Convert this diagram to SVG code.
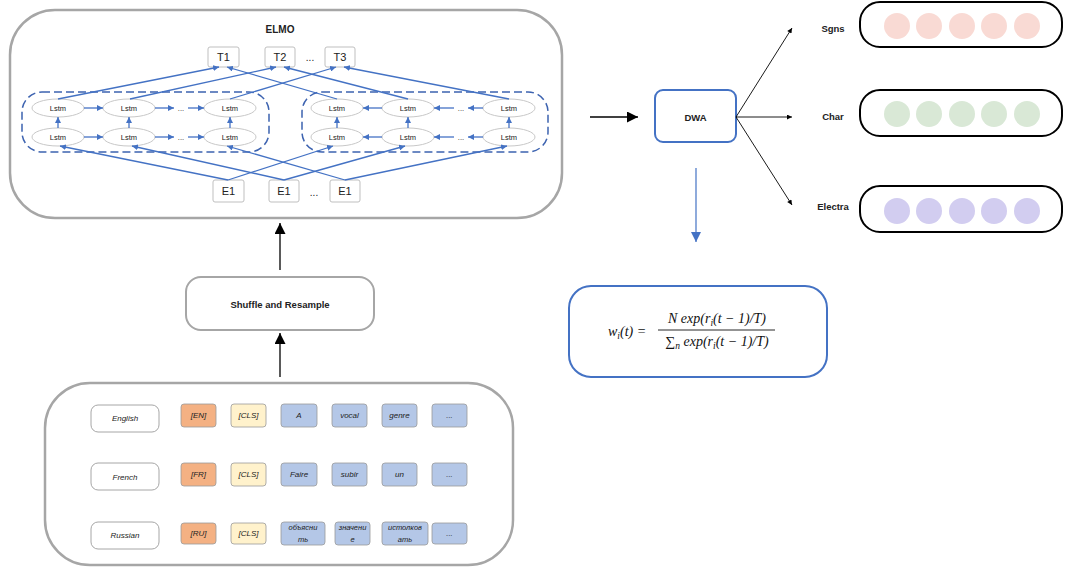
<svg xmlns="http://www.w3.org/2000/svg" width="1068" height="567" viewBox="0 0 1068 567">
<defs>
<style>
.big{fill:#fff;stroke:#a6a6a6;stroke-width:2.5}
.tb{fill:#fff;stroke:#bfbfbf;stroke-width:1}
.ls{fill:#fff;stroke:#c8c8c8;stroke-width:1}
.dash{fill:none;stroke:#3d63b0;stroke-width:1.5;stroke-dasharray:8 4}
.bl{fill:none;stroke:#4472c4;stroke-width:1.3;marker-end:url(#ab)}
.blk{fill:none;stroke:#000;stroke-width:1.3;marker-end:url(#ak)}
.thin{fill:none;stroke:#000;stroke-width:0.9;marker-end:url(#at)}
.t{font-family:"Liberation Sans",Arial,sans-serif;fill:#222;text-anchor:middle;dominant-baseline:central}
.b{font-weight:bold}
.it{font-style:italic}
.lang{fill:#fff;stroke:#a6a6a6;stroke-width:1}
.tok{stroke:#9a9a9a;stroke-width:0.8}
.bar{fill:#fff;stroke:#000;stroke-width:2}
.f{font-family:"Liberation Serif","Times New Roman",serif;font-style:italic;font-size:14px;fill:#111}
</style>
<marker id="ab" viewBox="0 0 10 10" refX="10" refY="5" markerWidth="6" markerHeight="6" markerUnits="userSpaceOnUse" orient="auto"><path d="M0,0L10,5L0,10z" fill="#4472c4"/></marker>
<marker id="ak" viewBox="0 0 10 10" refX="10" refY="5" markerWidth="11" markerHeight="11" markerUnits="userSpaceOnUse" orient="auto"><path d="M0,0L10,5L0,10z" fill="#000"/></marker>
<marker id="at" viewBox="0 0 10 10" refX="10" refY="5" markerWidth="6" markerHeight="5" markerUnits="userSpaceOnUse" orient="auto"><path d="M0,0L10,5L0,10z" fill="#000"/></marker>
<marker id="abig" viewBox="0 0 10 10" refX="10" refY="5" markerWidth="11" markerHeight="10" markerUnits="userSpaceOnUse" orient="auto"><path d="M0,0L10,5L0,10z" fill="#4472c4"/></marker>
</defs>

<g id="elmo">
<rect class="big" x="10" y="10" width="552" height="208" rx="45"/>
<text class="t b" x="280" y="29" font-size="10">ELMO</text>
<rect class="dash" x="22" y="92" width="247" height="60" rx="20"/>
<rect class="dash" x="302" y="92" width="246" height="60" rx="20"/>
</g>

<g id="t-boxes">
<g id="t1"><rect class="tb" x="208" y="47" width="31" height="20" rx="2"/><text class="t" x="223.5" y="57" font-size="11">T1</text></g>
<g id="t2"><rect class="tb" x="265" y="47" width="30" height="20" rx="2"/><text class="t" x="280" y="57" font-size="11">T2</text></g>
<text class="t" x="310" y="57" font-size="10">...</text>
<g id="t3"><rect class="tb" x="325" y="47" width="30" height="20" rx="2"/><text class="t" x="340" y="57" font-size="11">T3</text></g>
</g>

<g id="e-boxes">
<g id="e1a"><rect class="tb" x="213" y="180" width="31" height="22" rx="2"/><text class="t" x="228.5" y="191" font-size="11">E1</text></g>
<g id="e1b"><rect class="tb" x="269" y="180" width="30" height="22" rx="2"/><text class="t" x="284" y="191" font-size="11">E1</text></g>
<text class="t" x="314" y="192" font-size="10">...</text>
<g id="e1c"><rect class="tb" x="330" y="180" width="30" height="22" rx="2"/><text class="t" x="345" y="191" font-size="11">E1</text></g>
</g>

<g id="lstms">
<ellipse class="ls" cx="58" cy="108" rx="26" ry="9"/><text class="t" x="58" y="108" font-size="7.5">Lstm</text>
<ellipse class="ls" cx="129" cy="108" rx="26" ry="9"/><text class="t" x="129" y="108" font-size="7.5">Lstm</text>
<ellipse class="ls" cx="230" cy="108" rx="26" ry="9"/><text class="t" x="230" y="108" font-size="7.5">Lstm</text>
<ellipse class="ls" cx="58" cy="137" rx="26" ry="9"/><text class="t" x="58" y="137" font-size="7.5">Lstm</text>
<ellipse class="ls" cx="129" cy="137" rx="26" ry="9"/><text class="t" x="129" y="137" font-size="7.5">Lstm</text>
<ellipse class="ls" cx="230" cy="137" rx="26" ry="9"/><text class="t" x="230" y="137" font-size="7.5">Lstm</text>
<ellipse class="ls" cx="337" cy="108" rx="26" ry="9"/><text class="t" x="337" y="108" font-size="7.5">Lstm</text>
<ellipse class="ls" cx="408" cy="108" rx="26" ry="9"/><text class="t" x="408" y="108" font-size="7.5">Lstm</text>
<ellipse class="ls" cx="509" cy="108" rx="26" ry="9"/><text class="t" x="509" y="108" font-size="7.5">Lstm</text>
<ellipse class="ls" cx="337" cy="137" rx="26" ry="9"/><text class="t" x="337" y="137" font-size="7.5">Lstm</text>
<ellipse class="ls" cx="408" cy="137" rx="26" ry="9"/><text class="t" x="408" y="137" font-size="7.5">Lstm</text>
<ellipse class="ls" cx="509" cy="137" rx="26" ry="9"/><text class="t" x="509" y="137" font-size="7.5">Lstm</text>
<text class="t" x="181" y="108" font-size="7.5">...</text>
<text class="t" x="181" y="137" font-size="7.5">...</text>
<text class="t" x="461" y="108" font-size="7.5">...</text>
<text class="t" x="461" y="137" font-size="7.5">...</text>
</g>

<g id="elmo-connectors">
<line class="bl" x1="84" y1="108" x2="103" y2="108"/>
<line class="bl" x1="155" y1="108" x2="174" y2="108"/>
<line class="bl" x1="188" y1="108" x2="204" y2="108"/>
<line class="bl" x1="84" y1="137" x2="103" y2="137"/>
<line class="bl" x1="155" y1="137" x2="174" y2="137"/>
<line class="bl" x1="188" y1="137" x2="204" y2="137"/>
<line class="bl" x1="382" y1="108" x2="363" y2="108"/>
<line class="bl" x1="483" y1="108" x2="468" y2="108"/>
<line class="bl" x1="454" y1="108" x2="434" y2="108"/>
<line class="bl" x1="382" y1="137" x2="363" y2="137"/>
<line class="bl" x1="483" y1="137" x2="468" y2="137"/>
<line class="bl" x1="454" y1="137" x2="434" y2="137"/>
<line class="bl" x1="58" y1="128" x2="58" y2="117"/>
<line class="bl" x1="129" y1="128" x2="129" y2="117"/>
<line class="bl" x1="230" y1="128" x2="230" y2="117"/>
<line class="bl" x1="337" y1="128" x2="337" y2="117"/>
<line class="bl" x1="408" y1="128" x2="408" y2="117"/>
<line class="bl" x1="509" y1="128" x2="509" y2="117"/>
<line class="bl" x1="58" y1="99" x2="219" y2="67"/>
<line class="bl" x1="130" y1="99" x2="276" y2="67"/>
<line class="bl" x1="230" y1="99" x2="336" y2="67"/>
<line class="bl" x1="337" y1="99" x2="227" y2="67"/>
<line class="bl" x1="408" y1="99" x2="284" y2="67"/>
<line class="bl" x1="509" y1="99" x2="344" y2="67"/>
<line class="bl" x1="228" y1="180" x2="60" y2="146"/>
<line class="bl" x1="228" y1="180" x2="333" y2="146"/>
<line class="bl" x1="284" y1="180" x2="132" y2="146"/>
<line class="bl" x1="284" y1="180" x2="405" y2="146"/>
<line class="bl" x1="345" y1="180" x2="227" y2="146"/>
<line class="bl" x1="345" y1="180" x2="507" y2="146"/>
</g>

<g id="shuffle">
<rect class="big" x="186" y="277" width="188" height="53" rx="15" style="stroke-width:2"/>
<text class="t b" x="280" y="304" font-size="9.5">Shuffle and Resample</text>
</g>

<g id="inputs">
<rect class="big" x="45" y="383" width="468" height="182" rx="45"/>
<rect class="lang" x="91" y="405" width="68" height="27" rx="7"/><text class="t it" x="125" y="418.5" font-size="8">English</text>
<rect class="lang" x="91" y="463" width="68" height="27" rx="7"/><text class="t it" x="125" y="477" font-size="8">French</text>
<rect class="lang" x="91" y="522" width="68" height="27" rx="7"/><text class="t it" x="125" y="535.5" font-size="8">Russian</text>

<rect class="tok" fill="#f4b183" x="181" y="404" width="35" height="23" rx="3"/><text class="t it" x="198.5" y="415.5" font-size="8">[EN]</text>
<rect class="tok" fill="#fff2cc" x="231" y="404" width="35" height="23" rx="3"/><text class="t it" x="248.5" y="415.5" font-size="8">[CLS]</text>
<rect class="tok" fill="#b4c7e7" x="281" y="404" width="36" height="23" rx="3"/><text class="t it" x="299" y="415.5" font-size="8">A</text>
<rect class="tok" fill="#b4c7e7" x="332" y="404" width="35" height="23" rx="3"/><text class="t it" x="349.5" y="415.5" font-size="8">vocal</text>
<rect class="tok" fill="#b4c7e7" x="382" y="404" width="35" height="23" rx="3"/><text class="t it" x="399.5" y="415.5" font-size="8">genre</text>
<rect class="tok" fill="#b4c7e7" x="432" y="404" width="35" height="23" rx="3"/><text class="t it" x="449.5" y="415.5" font-size="8">...</text>

<rect class="tok" fill="#f4b183" x="181" y="463" width="35" height="23" rx="3"/><text class="t it" x="198.5" y="474.5" font-size="8">[FR]</text>
<rect class="tok" fill="#fff2cc" x="231" y="463" width="35" height="23" rx="3"/><text class="t it" x="248.5" y="474.5" font-size="8">[CLS]</text>
<rect class="tok" fill="#b4c7e7" x="281" y="463" width="36" height="23" rx="3"/><text class="t it" x="299" y="474.5" font-size="8">Faire</text>
<rect class="tok" fill="#b4c7e7" x="332" y="463" width="35" height="23" rx="3"/><text class="t it" x="349.5" y="474.5" font-size="8">subir</text>
<rect class="tok" fill="#b4c7e7" x="382" y="463" width="35" height="23" rx="3"/><text class="t it" x="399.5" y="474.5" font-size="8">un</text>
<rect class="tok" fill="#b4c7e7" x="432" y="463" width="35" height="23" rx="3"/><text class="t it" x="449.5" y="474.5" font-size="8">...</text>

<rect class="tok" fill="#f4b183" x="181" y="523" width="35" height="21" rx="3"/><text class="t it" x="198.5" y="533.5" font-size="8">[RU]</text>
<rect class="tok" fill="#fff2cc" x="231" y="523" width="35" height="21" rx="3"/><text class="t it" x="248.5" y="533.5" font-size="8">[CLS]</text>
<rect class="tok" fill="#b4c7e7" x="281" y="522" width="44" height="23" rx="3"/><text class="t it" x="303" y="527.5" font-size="7.5">объясни</text><text class="t it" x="303" y="539" font-size="7.5">ть</text>
<rect class="tok" fill="#b4c7e7" x="335" y="522" width="35" height="23" rx="3"/><text class="t it" x="352.5" y="527.5" font-size="7.5">значени</text><text class="t it" x="352.5" y="539" font-size="7.5">е</text>
<rect class="tok" fill="#b4c7e7" x="382" y="522" width="46" height="23" rx="3"/><text class="t it" x="405" y="527.5" font-size="7.5">истолков</text><text class="t it" x="405" y="539" font-size="7.5">ать</text>
<rect class="tok" fill="#b4c7e7" x="432" y="523" width="35" height="21" rx="3"/><text class="t it" x="449.5" y="533.5" font-size="8">...</text>
</g>

<g id="dwa">
<rect x="655" y="90" width="81" height="52" rx="8" fill="#fff" stroke="#4472c4" stroke-width="2"/>
<text class="t b" x="695.5" y="117" font-size="9.5">DWA</text>
</g>

<g id="sgns">
<text class="t b" x="833" y="28" font-size="9.5">Sgns</text>
<rect class="bar" x="860" y="2" width="202" height="45" rx="20"/>
<circle cx="897" cy="26" r="13" fill="#f9dad4"/><circle cx="929" cy="26" r="13" fill="#f9dad4"/><circle cx="962" cy="26" r="13" fill="#f9dad4"/><circle cx="994" cy="26" r="13" fill="#f9dad4"/><circle cx="1027" cy="26" r="13" fill="#f9dad4"/>
</g>
<g id="char">
<text class="t b" x="833" y="116" font-size="9.5">Char</text>
<rect class="bar" x="860" y="90" width="202" height="46" rx="20"/>
<circle cx="897" cy="114" r="13" fill="#d9e8d6"/><circle cx="929" cy="114" r="13" fill="#d9e8d6"/><circle cx="962" cy="114" r="13" fill="#d9e8d6"/><circle cx="994" cy="114" r="13" fill="#d9e8d6"/><circle cx="1027" cy="114" r="13" fill="#d9e8d6"/>
</g>
<g id="electra">
<text class="t b" x="833" y="206" font-size="9.5">Electra</text>
<rect class="bar" x="860" y="186" width="202" height="46" rx="20"/>
<circle cx="897" cy="211" r="13" fill="#d2cdf0"/><circle cx="929" cy="211" r="13" fill="#d2cdf0"/><circle cx="962" cy="211" r="13" fill="#d2cdf0"/><circle cx="994" cy="211" r="13" fill="#d2cdf0"/><circle cx="1027" cy="211" r="13" fill="#d2cdf0"/>
</g>

<g id="formula">
<rect x="569" y="286" width="258" height="91" rx="22" fill="#fff" stroke="#4472c4" stroke-width="2"/>
<text class="f" x="608" y="336">w<tspan font-size="9.5" dy="3">i</tspan><tspan dy="-3">(t) =</tspan></text>
<line x1="658" y1="330" x2="775" y2="330" stroke="#111" stroke-width="0.9"/>
<text class="f" x="717" y="323" text-anchor="middle">N exp(r<tspan font-size="9.5" dy="3">i</tspan><tspan dy="-3">(t − 1)/T)</tspan></text>
<text class="f" x="717" y="346" text-anchor="middle"><tspan font-style="normal">∑</tspan><tspan font-size="9.5" dy="3">n</tspan><tspan dy="-3"> exp(r</tspan><tspan font-size="9.5" dy="3">i</tspan><tspan dy="-3">(t − 1)/T)</tspan></text>
</g>

<g id="connectors">
<line class="blk" x1="280" y1="270" x2="280" y2="223"/>
<line class="blk" x1="280" y1="377" x2="280" y2="333"/>
<line class="blk" x1="590" y1="117" x2="638" y2="117"/>
<line class="thin" x1="736" y1="117" x2="792" y2="28"/>
<line class="thin" x1="736" y1="117" x2="792" y2="117"/>
<line class="thin" x1="736" y1="117" x2="792" y2="205"/>
<line x1="696" y1="168" x2="696" y2="242" stroke="#4472c4" stroke-width="1.2" marker-end="url(#abig)"/>
</g>
</svg>
